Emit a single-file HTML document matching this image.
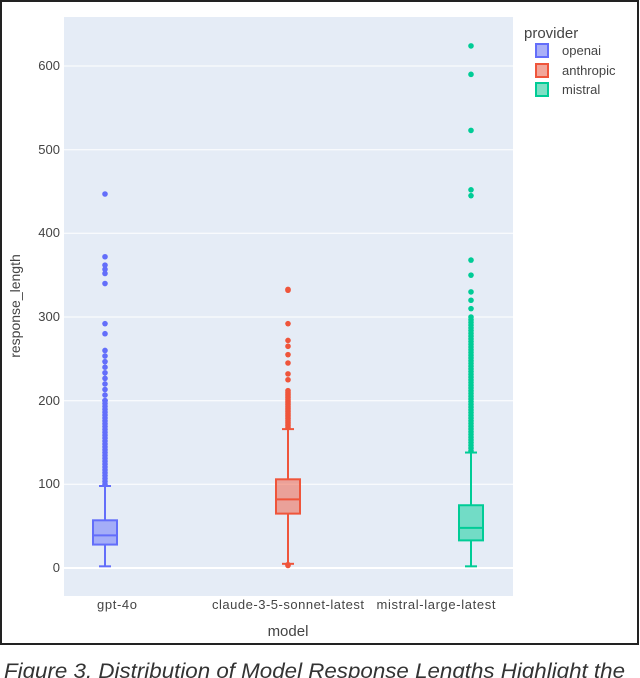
<!DOCTYPE html>
<html><head><style>
html,body{margin:0;padding:0;background:#fff;width:640px;height:678px;overflow:hidden}
</style></head><body>
<svg width="640" height="678" xmlns="http://www.w3.org/2000/svg" font-family="Liberation Sans, sans-serif">
<rect x="0" y="0" width="640" height="678" fill="#fff"/>
<rect x="1" y="1" width="637" height="643" fill="#fff" stroke="#222" stroke-width="2"/>
<rect x="64" y="17" width="449" height="579" fill="#e5ecf6"/>
<g stroke="#fff" stroke-width="1">
<line x1="64" x2="513" y1="484.3" y2="484.3"/>
<line x1="64" x2="513" y1="400.7" y2="400.7"/>
<line x1="64" x2="513" y1="317" y2="317"/>
<line x1="64" x2="513" y1="233.3" y2="233.3"/>
<line x1="64" x2="513" y1="149.7" y2="149.7"/>
<line x1="64" x2="513" y1="66" y2="66"/>
</g>
<line x1="64" x2="513" y1="568" y2="568" stroke="#fff" stroke-width="2"/>
<g font-size="13" fill="#444" text-anchor="end">
<text x="60" y="572">0</text><text x="60" y="488">100</text><text x="60" y="405">200</text>
<text x="60" y="321">300</text><text x="60" y="237">400</text><text x="60" y="154">500</text><text x="60" y="70">600</text>
</g>
<g font-size="13" fill="#444" text-anchor="middle">
<text x="117" y="609" textLength="40">gpt-4o</text><text x="288" y="609" textLength="152">claude-3-5-sonnet-latest</text><text x="436" y="609" textLength="119">mistral-large-latest</text>
</g>
<text x="288" y="636" font-size="15" fill="#444" text-anchor="middle">model</text>
<text transform="translate(20,306) rotate(-90)" font-size="14" fill="#444" text-anchor="middle">response_length</text>
<g id="pts"></g>
<g id="boxes"></g>
<text x="524" y="38" font-size="15" fill="#444">provider</text>
<rect x="536" y="44" width="12" height="13" fill="#aab0f7" stroke="#636efa" stroke-width="2"/>
<text x="562" y="55" font-size="13" fill="#444">openai</text>
<rect x="536" y="64" width="12" height="13" fill="#f2a69a" stroke="#ef553b" stroke-width="2"/>
<text x="562" y="75" font-size="13" fill="#444">anthropic</text>
<rect x="536" y="83" width="12" height="13" fill="#7fe0c5" stroke="#00cc96" stroke-width="2"/>
<text x="562" y="94" font-size="13" fill="#444">mistral</text>
<text x="4" y="678" font-size="21" font-style="italic" fill="#333" textLength="621" lengthAdjust="spacingAndGlyphs">Figure 3. Distribution of Model Response Lengths Highlight the</text>
</svg>
<script>
const ns="http://www.w3.org/2000/svg";
const Y=v=>568-0.8367*v;
function el(p,t,a){const e=document.createElementNS(ns,t);for(const k in a)e.setAttribute(k,a[k]);p.appendChild(e);return e;}
const P=document.getElementById('pts'),B=document.getElementById('boxes');
function range(a,b,n){const r=[];for(let i=0;i<n;i++)r.push(a+(b-a)*i/(n-1));return r;}
const series=[
 {x:105,c:'#636efa',f:'rgba(99,110,250,0.5)',q1:28,q3:57,m:39,lo:2,hi:98,out:[...range(100,200,30),...range(200,260,10),280,292,340,352,357,362,372,447]},
 {x:288,c:'#ef553b',f:'rgba(239,85,59,0.5)',q1:65,q3:106,m:82,lo:5,hi:166,out:[3,4,...range(168,212,22),225,232,245,255,265,272,292,332,333]},
 {x:471,c:'#00cc96',f:'rgba(0,204,150,0.5)',q1:33,q3:75,m:48,lo:2,hi:138,out:[...range(140,300,50),310,320,330,350,368,445,452,523,590,624]}
];
series.forEach(s=>{
 s.out.forEach(v=>el(P,'circle',{cx:s.x,cy:Y(v),r:2.8,fill:s.c}));
 el(B,'line',{x1:s.x,x2:s.x,y1:Y(s.lo),y2:Y(s.q1),stroke:s.c,'stroke-width':2});
 el(B,'line',{x1:s.x,x2:s.x,y1:Y(s.q3),y2:Y(s.hi),stroke:s.c,'stroke-width':2});
 el(B,'line',{x1:s.x-6,x2:s.x+6,y1:Y(s.lo),y2:Y(s.lo),stroke:s.c,'stroke-width':2});
 el(B,'line',{x1:s.x-6,x2:s.x+6,y1:Y(s.hi),y2:Y(s.hi),stroke:s.c,'stroke-width':2});
 el(B,'rect',{x:s.x-12,y:Y(s.q3),width:24,height:Y(s.q1)-Y(s.q3),fill:s.f,stroke:s.c,'stroke-width':2});
 el(B,'line',{x1:s.x-12,x2:s.x+12,y1:Y(s.m),y2:Y(s.m),stroke:s.c,'stroke-width':2});
});
</script>
</body></html>
